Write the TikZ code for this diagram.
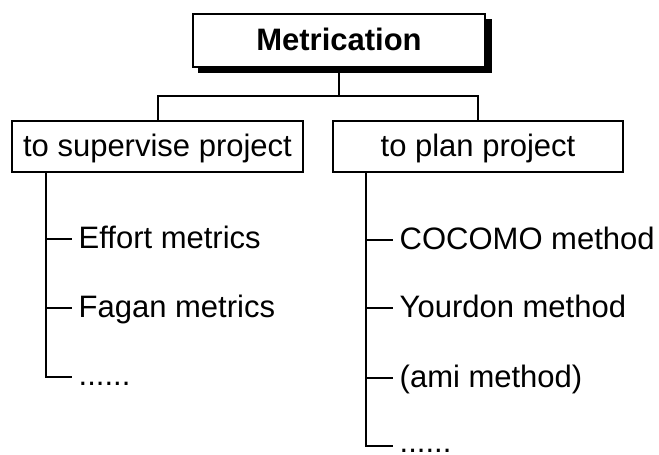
\documentclass[tikz,border=0pt]{standalone}
\usepackage{fontspec}
\setmainfont{Liberation Sans}
\begin{document}
\begin{tikzpicture}[x=1pt,y=-1pt,
  conn/.style={line width=2pt},
  box/.style={draw, line width=2pt, fill=white, inner sep=0pt,
    font=\fontsize{31}{36}\selectfont, text height=22pt, text depth=2pt},
  item/.style={anchor=west, inner xsep=6.5pt, inner ysep=0pt,
    font=\fontsize{31}{36}\selectfont, text height=22pt, text depth=4pt}]
\useasboundingbox (0,0) rectangle (659,455);
% shadow of the top box
\fill[black] (198,19) rectangle (492,73);
\node[box, minimum width=292pt, minimum height=53pt, font=\fontsize{31}{36}\selectfont\bfseries] (top) at (339,40.5) {Metrication};
\node[box, minimum width=291pt, minimum height=51pt] (sup) at (157.5,146.5) {to supervise project};
\node[box, minimum width=290pt, minimum height=51pt] (plan) at (478,146.5) {to plan project};
% connectors from the top box
\coordinate (j) at (339,96);
\draw[conn] (top.south) -- (j);
\draw[conn] (sup.north) |- (j) -| (plan.north);
% left list
\coordinate (lt) at (46,172);
\node[item] (e1) at (72,239) {Effort metrics};
\node[item] (e2) at (72,308) {Fagan metrics};
\node[item, text height=16pt, text depth=0pt] (e3) at (72,377) {......};
\draw[conn] (lt) |- (e3.west);
\draw[conn] (lt |- e1.west) -- (e1.west);
\draw[conn] (lt |- e2.west) -- (e2.west);
% right list
\coordinate (rt) at (366,172);
\node[item] (m1) at (393,240) {COCOMO method};
\node[item] (m2) at (393,308) {Yourdon method};
\node[item] (m3) at (393,378) {(ami method)};
\node[item, text height=12pt, text depth=0pt] (m4) at (393,446) {......};
\draw[conn] (rt) |- (m4.west);
\draw[conn] (rt |- m1.west) -- (m1.west);
\draw[conn] (rt |- m2.west) -- (m2.west);
\draw[conn] (rt |- m3.west) -- (m3.west);
\end{tikzpicture}
\end{document}
